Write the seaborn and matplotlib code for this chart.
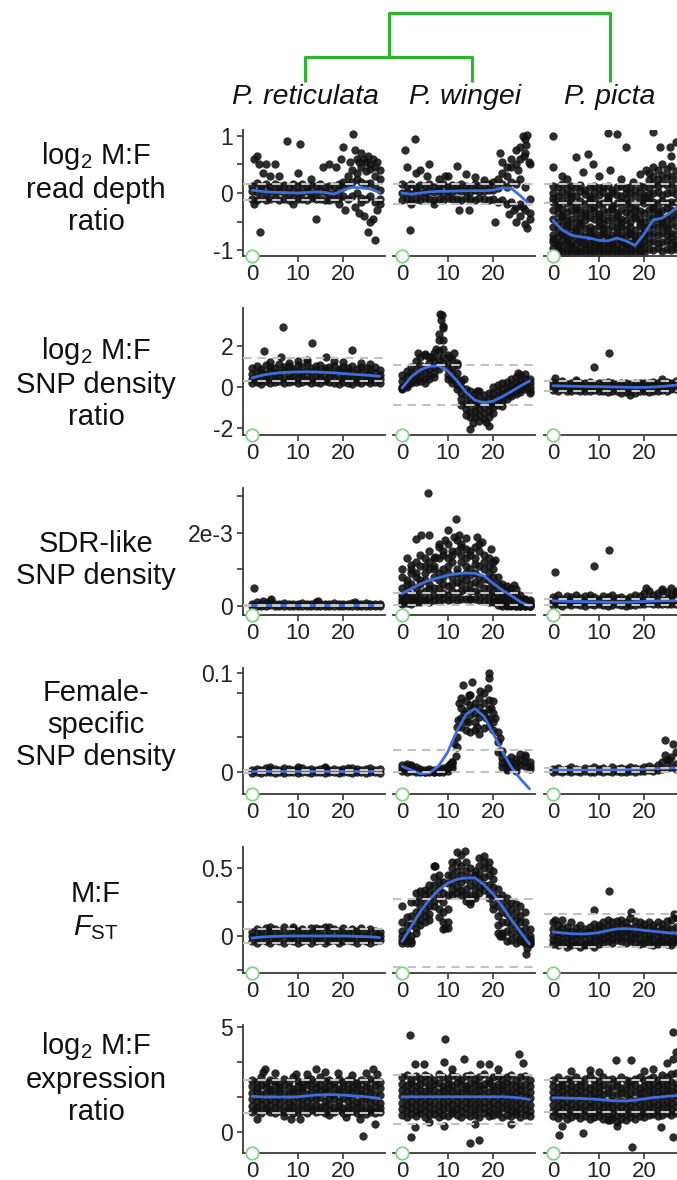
import matplotlib
matplotlib.use("Agg")
import matplotlib.pyplot as plt
import seaborn as sns

# ---------------------------------------------------------------- data
SPECIES = ["P. reticulata", "P. wingei", "P. picta"]
ROW_LABELS = [
    "log$_2$ M:F\nread depth\nratio",
    "log$_2$ M:F\nSNP density\nratio",
    "SDR-like\nSNP density",
    "Female-\nspecific\nSNP density",
    "M:F\n$\\mathit{F}_{\\mathrm{ST}}$",
    "log$_2$ M:F\nexpression\nratio",
]
POS = [0, 1, 2, 3, 4, 5, 6, 7, 8, 9, 10, 11, 12, 13, 14, 15, 16, 17, 18, 19,
       20, 21, 22, 23, 24, 25, 26, 27, 28]
TREND_POS = [0, 2, 4, 6, 8, 10, 12, 14, 16, 18, 20, 22, 24, 26, 28]
X_TICKS = [0, 10, 20]

# y ticks / labels of the left column, per row
Y_TICKS = [[-1, -0.5, 0, 0.5, 1], [-2, 0, 2], [0, 1, 2, 3],
           [0, 0.035, 0.08, 0.1], [-0.25, 0, 0.25, 0.5], [0, 1.67, 3.33, 5]]
Y_TICKLABELS = [["-1", "", "0", "", "1"], ["-2", "0", "2"], ["0", "", "2e-3", ""],
                ["0", "", "", "0.1"], ["", "0", "", "0.5"], ["0", "", "", "5"]]

# ---- log2 M:F read depth ratio
RD_RET_ROWS = [
    [0.13,0.18,0.12,0.15,0.10,0.16,0.12,0.14,0.10,0.15, 0.12,0.16,0.11,0.14,0.12,0.15,0.10,0.13,0.12,0.16, 0.20,0.30,0.40,0.35,0.45,0.38,0.42,0.30,0.25],
    [0.04,0.02,0.05,0.00,0.03,0.01,0.04,0.02,0.00,0.03, 0.01,0.02,0.04,0.00,0.02,0.03,0.01,-0.01,0.00,0.05, 0.10,0.15,0.20,0.25,0.20,0.15,0.18,0.10,0.05],
    [-0.10,-0.12,-0.08,-0.13,-0.10,-0.09,-0.12,-0.10,-0.13,-0.08, -0.11,-0.10,-0.12,-0.09,-0.11,-0.10,-0.13,-0.12,-0.10,-0.08, -0.05,-0.10,-0.05,0.00,-0.08,-0.10,-0.05,-0.15,-0.10],
]
RD_RET_OUT = [(0.5,0.60),(1.0,0.65),(1.5,0.50),(2.5,0.35),(3.0,0.50),(4.0,0.30),(5.0,0.50),(6.0,0.30),
              (7.7,0.92),(10.5,0.86),(10.0,0.35),(13.0,0.25),(15.5,0.45),(17.0,0.50),(18.5,0.45),(20.0,0.80),
              (19.5,0.60),(22.2,1.03),(21.5,0.55),(22.5,0.75),(23.0,0.60),(23.5,0.55),(24.0,0.70),(24.5,0.60),
              (25.0,0.55),(25.5,0.65),(26.0,0.50),(26.5,0.60),(27.0,0.45),(27.5,0.55),(28.0,0.40),
              (0.5,-0.20),(1.7,-0.68),(14.1,-0.45),(19.0,-0.20),(20.5,-0.30),(22.5,-0.25),(23.5,-0.35),
              (24.5,-0.40),(25.5,-0.68),(26.0,-0.50),(26.5,-0.45),(27.0,-0.82),(27.5,-0.30),(28.0,-0.20),
              (24.0,-0.15),(9.0,-0.20)]
RD_RET_TREND = [0.05,0.03,0.015,0.01,0.005,0.0,0.01,0.02,0.01,-0.02,0.05,0.10,0.09,0.07,0.01]
RD_RET_DASH = [0.16, -0.12]

RD_WIN_ROWS = [
    [0.15,0.12,0.16,0.10,0.14,0.12,0.16,0.11,0.13,0.15, 0.10,0.14,0.12,0.16,0.13,0.10,0.15,0.12,0.14,0.16, 0.20,0.25,0.35,0.30,0.45,0.50,0.60,0.70,0.50],
    [0.00,0.02,-0.02,0.03,0.00,0.01,0.04,0.02,0.03,0.00, 0.04,0.02,0.05,0.03,0.04,0.02,0.05,0.03,0.04,0.06, 0.05,0.08,0.15,0.10,0.20,0.15,0.25,0.10,-0.10],
    [-0.12,-0.10,-0.14,-0.10,-0.12,-0.09,-0.11,-0.13,-0.10,-0.12, -0.08,-0.11,-0.10,-0.12,-0.09,-0.10,-0.12,-0.08,-0.10,-0.12, -0.10,-0.15,-0.12,-0.20,-0.15,-0.25,-0.20,-0.30,-0.35],
]
RD_WIN_OUT = [(0.6,0.75),(2.8,0.95),(1.7,-0.65),(6.0,0.50),(12.0,0.48),(14.0,0.33),(12.5,-0.30),(14.7,-0.30),
              (20.5,-0.50),(23.4,-0.36),(1.0,0.45),(3.0,0.35),(4.0,0.40),(5.5,0.30),(8.0,0.25),(10.0,0.30),
              (16.0,0.28),(18.0,0.22),(21.5,0.70),(22.0,0.55),(23.0,0.45),(24.0,0.60),(25.0,0.75),(25.5,0.40),
              (26.0,0.80),(26.5,1.00),(27.0,0.95),(27.2,0.85),(27.5,1.02),(26.8,0.65),(27.8,0.55),(26.0,-0.40),
              (25.0,-0.50),(27.0,-0.55),(27.5,-0.62),(28.0,-0.45),(26.5,-0.25),(24.5,-0.30),(2.0,-0.20),
              (7.0,-0.20),(9.5,0.30)]
RD_WIN_TREND = [0.0,-0.02,0.0,0.02,0.03,0.03,0.035,0.04,0.04,0.04,0.05,0.09,0.08,-0.05,-0.20]
RD_WIN_DASH = [0.16, -0.20]

RD_PIC_ROWS = [
    [0.12,0.10,0.15,0.08,0.12,0.10,0.14,0.05,0.10,0.12, 0.08,0.10,0.13,0.06,0.10,0.12,0.08,0.10,0.05,0.12, 0.10,0.35,0.45,0.40,0.50,0.42,0.48,0.38,0.45],
    [0.00,-0.05,0.02,-0.03,0.00,-0.06,0.03,-0.02,-0.05,0.00, -0.04,0.02,-0.06,0.00,-0.03,-0.05,0.00,-0.02,-0.06,0.00, -0.03,0.22,0.30,0.25,0.32,0.28,0.30,0.25,0.30],
    [-0.15,-0.20,-0.12,-0.18,-0.15,-0.22,-0.14,-0.20,-0.16,-0.12, -0.20,-0.17,-0.14,-0.22,-0.18,-0.15,-0.20,-0.16,-0.22,-0.14, -0.18,0.10,0.15,0.12,0.18,0.14,0.16,0.10,0.15],
    [-0.30,-0.35,-0.28,-0.33,-0.30,-0.36,-0.30,-0.34,-0.28,-0.32, -0.36,-0.30,-0.34,-0.28,-0.35,-0.30,-0.33,-0.37,-0.30,-0.32, -0.35,-0.02,0.00,0.02,-0.03,0.00,0.02,-0.02,0.00],
    [-0.45,-0.50,-0.42,-0.48,-0.45,-0.50,-0.44,-0.48,-0.42,-0.46, -0.50,-0.44,-0.48,-0.43,-0.50,-0.45,-0.47,-0.50,-0.44,-0.46, -0.50,-0.16,-0.15,-0.18,-0.14,-0.17,-0.15,-0.16,-0.14],
    [-0.60,-0.63,-0.57,-0.62,-0.60,-0.64,-0.58,-0.62,-0.60,-0.63, -0.58,-0.61,-0.64,-0.58,-0.62,-0.60,-0.63,-0.60,-0.65,-0.58, -0.62,-0.30,-0.28,-0.32,-0.30,-0.27,-0.30,-0.32,-0.28],
    [-0.73,-0.76,-0.72,-0.75,-0.74,-0.77,-0.72,-0.75,-0.73,-0.76, -0.74,-0.72,-0.77,-0.73,-0.75,-0.74,-0.76,-0.72,-0.75,-0.74, -0.76,-0.44,-0.42,-0.45,-0.43,-0.46,-0.42,-0.44,-0.45],
    [-0.86,-0.88,-0.85,-0.87,-0.86,-0.89,-0.85,-0.87,-0.88,-0.86, -0.85,-0.88,-0.87,-0.86,-0.89,-0.85,-0.87,-0.88,-0.86,-0.87, -0.85,-0.58,-0.56,-0.60,-0.57,-0.59,-0.55,-0.58,-0.60],
    [-0.97,-0.99,-0.96,-0.98,-0.97,-1.00,-0.96,-0.98,-0.99,-0.97, -0.96,-0.99,-0.98,-0.97,-1.00,-0.96,-0.98,-0.99,-0.97,-0.98, -0.96,-0.72,-0.70,-0.74,-0.71,-0.73,-0.70,-0.72,-0.74],
    [-1.05,-1.06,-1.04,-1.05,-1.06,-1.05,-1.04,-1.06,-1.05,-1.04, -1.06,-1.05,-1.04,-1.06,-1.05,-1.04,-1.06,-1.05,-1.04,-1.05, -1.06,-0.86,-0.85,-0.88,-0.86,-0.84,-0.87,-0.85,-0.86],
    [-0.80,-0.92,-0.70,-0.82,-0.93,-0.66,-0.80,-0.90,-0.68,-0.80, -0.93,-0.70,-0.82,-0.92,-0.68,-0.80,-0.90,-0.70,-0.82,-0.93, -0.70,-0.98,-1.00,-0.97,-1.02,-0.99,-1.00,-0.98,-1.01],
    [-0.08,-0.25,-0.40,-0.55,-0.07,-0.28,-0.52,-0.38,-0.10,-0.24, -0.42,-0.55,-0.08,-0.26,-0.40,-0.53,-0.10,-0.27,-0.41,-0.52, -0.09,-0.08,-0.22,-0.36,-0.50,-0.64,-0.78,-0.92,-0.07],
]
RD_PIC_OUT = [(0,1.00),(12,1.05),(14,1.03),(22,1.07),(5,0.63),(7.7,0.68),(8.8,0.50),(16,0.80),(23.4,0.80),
              (25.6,0.80),(0,0.45),(19,0.34),(12.5,0.40),(6.6,0.37),(3,0.25),(10,0.30),(17.5,0.20),(20.5,0.40),
              (27,0.90),(26,0.65),(2,0.30),(15,0.25)]
RD_PIC_TREND = [-0.48,-0.65,-0.74,-0.77,-0.79,-0.83,-0.84,-0.79,-0.84,-0.92,-0.72,-0.47,-0.44,-0.33,-0.22]
RD_PIC_DASH = [0.16, -0.17]

# ---- log2 M:F SNP density ratio
SNP_RET_ROWS = [
    [0.95,1.05,0.90,1.10,1.00,0.95,1.15,1.00,1.05,0.90, 1.10,1.00,1.20,0.95,1.05,1.10,0.95,1.00,1.05,0.90, 1.00,0.95,1.05,0.90,1.00,0.95,0.90,1.00,0.85],
    [0.65,0.70,0.75,0.65,0.80,0.70,0.75,0.85,0.70,0.80, 0.75,0.70,0.80,0.75,0.85,0.70,0.80,0.75,0.70,0.80, 0.65,0.75,0.70,0.65,0.70,0.60,0.65,0.70,0.60],
    [0.40,0.45,0.35,0.50,0.45,0.40,0.50,0.45,0.40,0.50, 0.45,0.50,0.40,0.45,0.50,0.45,0.40,0.50,0.45,0.40, 0.45,0.40,0.45,0.40,0.45,0.40,0.35,0.45,0.40],
    [0.20,0.25,0.15,0.30,0.20,0.25,0.30,0.20,0.25,0.30, 0.20,0.25,0.30,0.20,0.25,0.20,0.30,0.25,0.20,0.15, 0.25,0.20,0.15,0.25,0.20,0.30,0.20,0.25,0.20],
]
SNP_RET_OUT = [(6.7,2.94),(13.2,2.19),(2.6,1.80),(22,1.83),(16.3,1.50),(6.4,1.47),(10,1.30),(18,1.30),(4,1.25),
               (24,1.20),(26,1.15),(12,1.35),(8,1.20),(20,1.25)]
SNP_RET_TREND = [0.45,0.57,0.65,0.70,0.73,0.74,0.75,0.74,0.72,0.70,0.66,0.63,0.60,0.57,0.53]
SNP_RET_DASH = [1.42, 0.28]

SNP_WIN_ROWS = [
    [0.60,0.80,1.00,1.30,1.50,1.60,1.50,1.70,2.30,2.90, 1.60,1.40,1.10,0.30,-0.10,-0.20,-0.30,-0.20,-0.40,-0.30, 0.00,0.10,0.20,0.25,0.40,0.50,0.60,0.65,0.40],
    [0.30,0.50,0.70,0.90,1.10,1.00,1.20,1.30,1.80,2.30, 1.20,1.00,0.70,0.00,-0.40,-0.50,-0.60,-0.50,-0.70,-0.60, -0.30,-0.20,-0.10,0.00,0.10,0.20,0.30,0.40,0.20],
    [0.00,0.20,0.50,0.60,0.80,0.70,0.90,1.00,1.40,1.90, 0.90,0.70,0.40,-0.30,-0.80,-0.80,-0.90,-0.80,-1.00,-0.90, -0.60,-0.50,-0.35,-0.20,-0.10,0.00,0.10,0.20,0.00],
    [-0.10,0.00,0.30,0.40,0.50,0.40,0.60,0.70,1.10,1.50, 0.60,0.40,0.10,-0.60,-1.10,-1.20,-1.20,-1.10,-1.30,-1.20, -0.80,-0.70,-0.50,-0.40,-0.30,-0.20,-0.10,0.00,-0.20],
    [-0.05,0.10,0.20,0.25,0.30,0.20,0.40,0.50,0.90,1.20, 0.40,0.20,-0.10,-0.90,-1.40,-1.50,-1.50,-1.40,-1.60,-1.50, -1.00,-0.90,-0.70,-0.60,-0.45,-0.35,-0.25,-0.10,-0.30],
]
SNP_WIN_OUT = [(8.3,3.62),(8.7,3.55),(9.0,3.00),(8.5,3.30),(8.2,2.60),(11.5,1.67),(14.9,-2.09),(19.0,-1.93),
               (18.5,-1.75),(15.5,-1.80),(17.0,-1.70),(25.5,0.69),(3.5,1.70),(5.0,1.65),(6.5,1.50),(12.0,1.20),
               (13.5,0.40),(16.5,-0.20),(20.0,-1.30),(22.0,-0.95),(10.5,1.50),(7.5,1.90)]
SNP_WIN_TREND = [-0.05,0.50,0.85,1.02,1.05,0.80,0.32,-0.25,-0.65,-0.78,-0.70,-0.48,-0.22,0.05,0.30]
SNP_WIN_DASH = [1.09, -0.91]

SNP_PIC_ROWS = [
    [0.25,0.20,0.30,0.15,0.20,0.25,0.18,0.20,0.25,0.15, 0.22,0.20,0.25,0.18,0.15,0.20,0.22,0.15,0.20,0.18, 0.22,0.20,0.25,0.20,0.18,0.25,0.22,0.30,0.25],
    [0.05,0.00,0.08,0.02,0.05,-0.02,0.04,0.00,0.05,0.02, -0.02,0.04,0.00,0.03,-0.02,0.00,0.02,-0.03,0.00,-0.02, 0.02,0.00,0.03,0.05,0.02,0.06,0.08,0.10,0.12],
    [-0.15,-0.20,-0.12,-0.18,-0.20,-0.15,-0.22,-0.18,-0.20,-0.15, -0.22,-0.20,-0.25,-0.18,-0.22,-0.30,-0.25,-0.20,-0.28,-0.22, -0.20,-0.25,-0.18,-0.20,-0.15,-0.18,-0.12,-0.10,-0.10],
]
SNP_PIC_OUT = [(9,1.01),(12.3,1.70),(0.4,0.44),(5,0.35),(17,-0.38),(24,0.40)]
SNP_PIC_TREND = [0.06,0.05,0.04,0.03,0.02,0.02,0.01,0.0,-0.01,-0.02,-0.02,0.0,0.03,0.07,0.11]
SNP_PIC_DASH = [0.30, -0.22]

# ---- SDR-like SNP density (values in units of 1e-3)
SDR_RET_ROWS = [
    [0.06,0.10,0.05,0.08,0.12,0.06,0.05,0.07,0.04,0.06, 0.05,0.08,0.05,0.06,0.10,0.05,0.06,0.04,0.07,0.05, 0.06,0.05,0.08,0.06,0.05,0.07,0.05,0.06,0.05],
    [0.00,0.01,0.00,0.00,0.02,0.00,0.01,0.00,0.00,0.01, 0.00,0.00,0.01,0.00,0.00,0.01,0.00,0.00,0.00,0.01, 0.00,0.00,0.01,0.00,0.00,0.01,0.00,0.00,0.00],
]
SDR_RET_OUT = [(0.4,0.50),(4.2,0.20),(2.4,0.12),(14.5,0.12),(22.5,0.10)]
SDR_RET_TREND = [0.02,0.02,0.02,0.02,0.02,0.02,0.02,0.02,0.02,0.02,0.02,0.02,0.02,0.02,0.02]
SDR_RET_DASH = [0.03, 0.0]

SDR_WIN_ROWS = [
    [1.00,1.30,0.90,1.20,1.40,1.10,1.50,1.30,1.60,1.40, 1.70,1.50,1.80,1.60,1.55,1.50,1.60,1.70,1.40,1.30, 1.20,0.80,0.60,0.55,0.50,0.45,0.30,0.20,0.15],
    [0.80,0.60,1.00,0.90,1.10,1.30,1.20,1.00,1.30,1.50, 1.30,1.40,1.50,1.40,1.30,1.40,1.30,1.50,1.20,1.10, 1.00,0.60,0.50,0.40,0.35,0.30,0.20,0.15,0.10],
    [0.50,0.70,0.60,0.80,0.70,0.90,1.00,1.10,0.90,1.00, 1.10,1.20,1.00,1.20,1.10,1.00,1.15,1.10,1.00,0.90, 0.80,0.45,0.35,0.30,0.25,0.20,0.12,0.10,0.05],
    [0.30,0.40,0.30,0.50,0.60,0.70,0.60,0.80,0.70,0.80, 0.90,0.80,0.90,0.80,0.90,0.85,0.90,0.80,0.75,0.70, 0.60,0.30,0.20,0.20,0.15,0.10,0.08,0.05,0.02],
    [0.20,0.25,0.20,0.30,0.35,0.40,0.45,0.50,0.50,0.60, 0.55,0.60,0.65,0.60,0.70,0.60,0.65,0.60,0.50,0.50, 0.40,0.20,0.10,0.10,0.05,0.05,0.03,0.02,0.00],
    [0.10,0.15,0.10,0.15,0.20,0.20,0.25,0.30,0.30,0.35, 0.30,0.40,0.35,0.40,0.45,0.40,0.40,0.35,0.30,0.30, 0.25,0.10,0.05,0.03,0.02,0.01,0.00,0.00,0.00],
    [0.05,0.08,0.05,0.10,0.10,0.12,0.10,0.15,0.12,0.18, 0.15,0.20,0.15,0.20,0.20,0.18,0.20,0.15,0.12,0.10, 0.10,0.03,0.00,0.00,0.00,0.00,0.00,0.00,0.00],
]
SDR_WIN_OUT = [(5.7,3.09),(11.8,2.39),(10,2.09),(11.4,1.89),(3,1.83),(4.2,1.95),(6,1.94),(7.3,1.35),(2,1.12),
               (8,1.70),(9.5,1.80),(14,1.85),(16.5,1.90),(19.5,1.55),(20.5,1.26),(24.5,0.57),(12.5,1.95),
               (15,0.20),(17.5,1.75),(13,1.70)]
SDR_WIN_TREND = [0.34,0.47,0.60,0.70,0.77,0.84,0.88,0.90,0.89,0.82,0.62,0.43,0.28,0.11,0.0]
SDR_WIN_DASH = [0.36, 0.02]

SDR_PIC_ROWS = [
    [0.25,0.30,0.20,0.28,0.25,0.30,0.22,0.28,0.30,0.25, 0.20,0.28,0.25,0.30,0.22,0.25,0.20,0.25,0.30,0.28, 0.35,0.40,0.30,0.35,0.40,0.38,0.30,0.35,0.40],
    [0.12,0.15,0.10,0.14,0.12,0.15,0.10,0.12,0.15,0.10, 0.12,0.14,0.10,0.12,0.15,0.10,0.12,0.10,0.14,0.12, 0.15,0.18,0.15,0.20,0.15,0.18,0.20,0.15,0.18],
    [0.02,0.05,0.00,0.04,0.03,0.05,0.02,0.00,0.04,0.02, 0.05,0.03,0.00,0.02,0.04,0.02,0.00,0.03,0.02,0.04, 0.05,0.08,0.05,0.06,0.04,0.05,0.06,0.04,0.05],
]
SDR_PIC_OUT = [(0.4,0.94),(9,1.08),(12.3,1.54),(20.5,0.48),(24,0.45),(26,0.50),(27,0.42)]
SDR_PIC_TREND = [0.14,0.13,0.12,0.12,0.11,0.11,0.10,0.10,0.10,0.11,0.12,0.13,0.14,0.14,0.15]
SDR_PIC_DASH = [0.20, 0.02]

# ---- Female-specific SNP density
FEM_RET_ROWS = [
    [0.002,0.003,0.002,0.004,0.002,0.003,0.002,0.004,0.003,0.002, 0.003,0.004,0.002,0.003,0.002,0.003,0.004,0.002,0.003,0.002, 0.003,0.002,0.004,0.003,0.002,0.003,0.004,0.002,0.003],
    [-0.001,0.000,-0.001,0.000,0.000,-0.001,0.000,-0.001,0.000,0.000, -0.001,0.000,0.000,-0.001,0.000,0.000,-0.001,0.000,0.000,-0.001, 0.000,0.000,-0.001,0.000,0.000,-0.001,0.000,0.000,-0.001],
]
FEM_RET_OUT = [(4,0.005),(10,0.005),(16,0.005),(21,0.004)]
FEM_RET_TREND = [0.0015,0.0015,0.0015,0.0015,0.0015,0.0015,0.0015,0.0015,0.0015,0.0015,0.0015,0.0015,0.0015,0.0015,0.0015]
FEM_RET_DASH = [0.002, -0.0005]

FEM_WIN_ROWS = [
    [0.007,0.006,0.007,0.005,0.003,0.002,0.003,0.002,0.003,0.004, 0.006,0.010,0.045,0.075,0.072,0.078,0.070,0.075,0.080,0.073, 0.072,0.040,0.014,0.012,0.015,0.013,0.018,0.015,0.010],
    [0.004,0.003,0.004,0.002,0.001,0.000,0.001,0.000,0.001,0.002, 0.004,0.007,0.035,0.065,0.062,0.068,0.060,0.066,0.070,0.064, 0.060,0.030,0.009,0.008,0.010,0.009,0.012,0.010,0.006],
    [0.001,0.000,0.001,0.000,0.000,0.000,0.000,0.000,0.000,0.000, 0.001,0.004,0.025,0.055,0.052,0.058,0.050,0.056,0.060,0.054, 0.050,0.020,0.005,0.004,0.006,0.005,0.007,0.006,0.003],
]
FEM_WIN_OUT = [(12.5,0.070),(13,0.045),(13.5,0.060),(14,0.042),(14.5,0.050),(15,0.040),(15.5,0.065),(16,0.042),
               (16.5,0.045),(17,0.038),(17.5,0.060),(18,0.044),(18.5,0.055),(19,0.046),(19.5,0.065),(20,0.042),
               (20.5,0.055),(13.3,0.088),(15.4,0.091),(19,0.100),(19.1,0.095),(18.9,0.085),(11.5,0.029),
               (11.8,0.016),(21.5,0.034),(22,0.021),(27,0.017),(23,0.002),(25,0.001),(11,0.010),(10.5,0.008),
               (1,0.008),(2,0.006),(12.2,0.053),(14.8,0.078),(17.2,0.082)]
FEM_WIN_TREND = [0.0057,0.002,-0.0017,-0.001,0.006,0.020,0.041,0.058,0.064,0.056,0.039,0.021,0.005,-0.007,-0.017]
FEM_WIN_DASH = [0.0226, 0.0]

FEM_PIC_ROWS = [
    [0.003,0.004,0.002,0.003,0.005,0.003,0.002,0.004,0.003,0.005, 0.003,0.004,0.002,0.005,0.003,0.004,0.003,0.005,0.004,0.003, 0.005,0.006,0.004,0.007,0.010,0.012,0.015,0.008,0.010],
    [0.000,0.001,0.000,0.001,0.000,0.001,0.000,0.001,0.000,0.000, 0.001,0.000,0.001,0.000,0.001,0.000,0.000,0.001,0.000,0.001, 0.001,0.002,0.001,0.002,0.003,0.004,0.005,0.003,0.004],
]
FEM_PIC_OUT = [(24.5,0.032),(26.4,0.028),(24.5,0.0175),(25.5,0.012),(27,0.020)]
FEM_PIC_TREND = [0.002,0.002,0.002,0.002,0.002,0.002,0.002,0.0022,0.0025,0.0028,0.003,0.0033,0.0036,0.004,0.0045]
FEM_PIC_DASH = [0.004, 0.0]

# ---- M:F FST
FST_RET_ROWS = [
    [0.03,0.05,0.04,0.06,0.03,0.05,0.04,0.07,0.03,0.05, 0.04,0.05,0.03,0.06,0.04,0.05,0.07,0.03,0.05,0.04, 0.06,0.03,0.05,0.04,0.06,0.03,0.05,0.04,0.03],
    [0.00,-0.01,0.01,0.00,0.01,-0.01,0.00,0.01,0.00,-0.01, 0.01,0.00,0.00,0.01,-0.01,0.00,0.01,0.00,-0.01,0.00, 0.01,0.00,-0.01,0.01,0.00,0.00,-0.01,0.00,0.00],
    [-0.04,-0.05,-0.03,-0.04,-0.05,-0.03,-0.04,-0.05,-0.03,-0.04, -0.05,-0.04,-0.03,-0.05,-0.04,-0.03,-0.05,-0.04,-0.03,-0.05, -0.04,-0.03,-0.04,-0.05,-0.03,-0.04,-0.05,-0.04,-0.03],
]
FST_RET_OUT = [(4,0.07),(9,0.065),(14,0.06),(17,0.07)]
FST_RET_TREND = [-0.015,-0.008,-0.004,-0.002,0.0,0.0,0.0,0.0,0.0,0.0,0.0,-0.002,-0.004,-0.006,-0.012]
FST_RET_DASH = [0.05, -0.05]

FST_WIN_ROWS = [
    [0.22,0.14,0.25,0.32,0.33,0.34,0.38,0.52,0.45,0.40, 0.45,0.55,0.62,0.60,0.55,0.50,0.48,0.58,0.59,0.55, 0.48,0.35,0.30,0.28,0.25,0.24,0.22,0.18,0.05],
    [0.10,0.08,0.15,0.25,0.28,0.30,0.33,0.44,0.40,0.32, 0.39,0.50,0.55,0.52,0.48,0.44,0.45,0.52,0.55,0.50, 0.42,0.28,0.25,0.22,0.20,0.18,0.15,0.10,0.00],
    [0.04,0.02,0.08,0.18,0.22,0.25,0.28,0.38,0.35,0.25, 0.30,0.45,0.48,0.45,0.42,0.38,0.40,0.46,0.50,0.45, 0.36,0.22,0.18,0.16,0.14,0.12,0.10,0.05,-0.02],
    [0.00,-0.03,0.00,0.12,0.17,0.20,0.22,0.32,0.28,0.18, 0.20,0.40,0.42,0.40,0.35,0.30,0.35,0.42,0.44,0.38, 0.30,0.15,0.10,0.10,0.08,0.06,0.04,0.00,-0.04],
    [-0.03,-0.05,-0.05,0.06,0.12,0.15,0.16,0.26,0.20,0.10, 0.10,0.35,0.36,0.34,0.30,0.26,0.30,0.36,0.38,0.32, 0.24,0.08,0.02,0.04,0.02,0.00,-0.02,-0.04,-0.05],
    [-0.05,-0.02,-0.04,0.02,0.08,0.10,0.12,0.22,0.14,0.05, 0.06,0.30,0.32,0.30,0.26,0.24,0.28,0.32,0.34,0.28, 0.20,0.02,0.00,-0.04,-0.03,-0.05,-0.04,-0.05,-0.06],
]
FST_WIN_OUT = [(27.3,-0.13),(27.5,-0.09),(9.5,0.06),(7.3,0.52),(13.8,0.63),(15,0.26),(21.5,0.00)]
FST_WIN_TREND = [-0.04,0.07,0.18,0.27,0.34,0.39,0.42,0.43,0.43,0.38,0.31,0.22,0.12,0.03,-0.06]
FST_WIN_DASH = [0.273, -0.23]

FST_PIC_ROWS = [
    [0.10,0.08,0.12,0.07,0.10,0.06,0.08,0.05,0.07,0.09, 0.08,0.10,0.12,0.10,0.11,0.12,0.10,0.13,0.11,0.10, 0.09,0.10,0.08,0.10,0.09,0.11,0.12,0.14,0.12],
    [0.05,0.04,0.06,0.03,0.04,0.02,0.03,0.02,0.03,0.04, 0.05,0.06,0.07,0.06,0.07,0.08,0.07,0.06,0.07,0.06, 0.05,0.06,0.05,0.04,0.05,0.06,0.05,0.07,0.06],
    [0.01,0.00,0.02,-0.01,0.00,-0.01,0.00,-0.02,-0.01,0.00, 0.01,0.02,0.03,0.02,0.04,0.03,0.04,0.03,0.02,0.03, 0.02,0.01,0.02,0.00,0.01,0.02,0.00,0.01,0.02],
    [-0.03,-0.04,-0.02,-0.05,-0.04,-0.06,-0.05,-0.06,-0.05,-0.04, -0.03,-0.02,-0.01,-0.02,0.00,-0.01,0.00,-0.02,-0.01,-0.02, -0.03,-0.02,-0.03,-0.04,-0.03,-0.02,-0.04,-0.03,-0.02],
    [-0.06,-0.07,-0.05,-0.08,-0.07,-0.06,-0.08,-0.07,-0.06,-0.08, -0.06,-0.05,-0.04,-0.05,-0.03,-0.04,-0.05,-0.04,-0.05,-0.06, -0.05,-0.06,-0.07,-0.06,-0.05,-0.06,-0.07,-0.05,-0.06],
]
FST_PIC_OUT = [(12.3,0.33),(9,0.19),(17.2,0.18),(0.4,0.12),(26.5,0.16),(27,0.14)]
FST_PIC_TREND = [0.03,0.023,0.017,0.015,0.017,0.025,0.04,0.052,0.055,0.05,0.042,0.035,0.028,0.022,0.02]
FST_PIC_DASH = [0.16, -0.08]

# ---- log2 M:F expression ratio
EXP_RET_ROWS = [
    [2.50,2.40,2.60,2.35,2.50,2.45,2.30,2.55,2.40,2.60, 2.45,2.35,2.50,2.55,2.40,2.60,2.45,2.50,2.35,2.55, 2.40,2.50,2.45,2.35,2.50,2.40,2.55,2.45,2.40],
    [2.20,2.10,2.25,2.15,2.05,2.20,2.10,2.25,2.15,2.05, 2.20,2.10,2.25,2.20,2.15,2.25,2.10,2.20,2.15,2.05, 2.20,2.10,2.15,2.20,2.05,2.15,2.10,2.20,2.10],
    [1.85,1.90,1.80,1.85,1.95,1.80,1.90,1.85,1.80,1.90, 1.85,1.95,1.80,1.90,1.85,1.95,1.90,1.85,1.80,1.90, 1.85,1.80,1.90,1.85,1.80,1.75,1.85,1.80,1.75],
    [1.55,1.50,1.60,1.45,1.55,1.50,1.60,1.55,1.45,1.50, 1.60,1.55,1.50,1.60,1.55,1.65,1.50,1.60,1.55,1.50, 1.60,1.50,1.55,1.45,1.50,1.55,1.45,1.50,1.40],
    [1.25,1.20,1.30,1.15,1.25,1.20,1.30,1.25,1.15,1.20, 1.25,1.30,1.20,1.25,1.30,1.20,1.25,1.30,1.20,1.25, 1.15,1.20,1.25,1.20,1.15,1.20,1.10,1.20,1.15],
    [0.95,1.00,0.90,1.05,0.95,0.90,1.00,0.95,1.05,0.90, 0.95,1.00,0.90,1.05,0.95,1.00,0.90,1.00,0.95,1.05, 0.90,0.95,1.00,0.90,0.95,0.85,0.95,0.90,0.95],
]
EXP_RET_OUT = [(2.8,3.00),(9.7,2.78),(14,3.00),(18.9,2.80),(26.6,2.98),(2.5,2.85),(1,0.63),(8.6,0.63),(10.5,0.63),
               (20.7,0.70),(23.7,0.63),(24.4,-0.20),(27,0.40),(5,2.80),(12,2.75),(16,2.85),(22,2.70),(25,2.80),
               (7,0.75),(17,0.80),(27.5,2.75)]
EXP_RET_TREND = [1.70,1.68,1.67,1.67,1.67,1.68,1.72,1.76,1.78,1.78,1.76,1.73,1.70,1.66,1.60]
EXP_RET_DASH = [2.49, 0.90]

EXP_WIN_ROWS = [
    [2.60,2.70,2.50,2.65,2.55,2.70,2.60,2.50,2.75,2.60, 2.55,2.70,2.60,2.50,2.65,2.70,2.55,2.60,2.75,2.50, 2.60,2.65,2.55,2.60,2.70,2.50,2.60,2.65,2.50],
    [2.30,2.25,2.35,2.20,2.30,2.40,2.25,2.30,2.35,2.20, 2.30,2.25,2.35,2.30,2.20,2.35,2.30,2.25,2.30,2.35, 2.20,2.30,2.25,2.35,2.30,2.20,2.25,2.30,2.20],
    [2.00,1.95,2.05,1.90,2.00,1.95,2.05,2.00,1.90,2.00, 2.05,1.95,2.00,1.90,2.05,2.00,1.95,2.00,2.05,1.90, 2.00,1.95,2.05,2.00,1.95,1.90,2.00,1.95,1.90],
    [1.70,1.65,1.75,1.60,1.70,1.65,1.75,1.70,1.60,1.70, 1.75,1.65,1.70,1.60,1.75,1.70,1.65,1.70,1.75,1.60, 1.70,1.65,1.75,1.70,1.65,1.60,1.70,1.65,1.60],
    [1.40,1.35,1.45,1.30,1.40,1.35,1.45,1.40,1.30,1.40, 1.45,1.35,1.40,1.30,1.45,1.40,1.35,1.40,1.45,1.30, 1.40,1.35,1.45,1.40,1.35,1.30,1.40,1.35,1.30],
    [1.10,1.05,1.15,1.00,1.10,1.05,1.15,1.10,1.00,1.10, 1.15,1.05,1.10,1.00,1.15,1.10,1.05,1.10,1.15,1.00, 1.10,1.05,1.15,1.10,1.05,1.00,1.10,1.05,1.00],
    [0.80,0.70,0.85,0.75,0.90,0.70,0.80,0.85,0.70,0.80, 0.75,0.90,0.80,0.70,0.85,0.75,0.80,0.70,0.90,0.75, 0.80,0.85,0.70,0.80,0.75,0.85,0.70,0.80,0.75],
]
EXP_WIN_OUT = [(1.7,4.60),(9.5,4.44),(13.6,3.49),(2.8,3.25),(4.9,3.25),(9.1,3.33),(17.2,3.25),(19,3.25),
               (25.6,3.73),(2,-0.24),(2.8,0.24),(9.1,0.27),(15,-0.52),(17,-0.40),(16,0.40),(24,0.40),
               (26.5,3.30),(11,3.00),(21,3.00),(6,0.50)]
EXP_WIN_TREND = [1.67,1.68,1.68,1.68,1.68,1.68,1.68,1.68,1.68,1.68,1.68,1.68,1.66,1.62,1.55]
EXP_WIN_DASH = [2.70, 0.40]

EXP_PIC_ROWS = [
    [2.50,2.60,2.45,2.55,2.50,2.60,2.45,2.55,2.65,2.50, 2.45,2.60,2.50,2.55,2.45,2.60,2.50,2.45,2.55,2.60, 2.50,2.55,2.60,2.50,2.70,2.60,2.75,2.80,2.70],
    [2.20,2.15,2.25,2.10,2.20,2.15,2.25,2.20,2.10,2.20, 2.15,2.25,2.10,2.15,2.20,2.10,2.15,2.20,2.25,2.10, 2.20,2.25,2.30,2.25,2.35,2.30,2.40,2.35,2.40],
    [1.90,1.85,1.95,1.80,1.90,1.85,1.95,1.90,1.80,1.85, 1.90,1.80,1.85,1.75,1.80,1.85,1.80,1.85,1.90,1.85, 1.90,1.95,2.00,1.95,2.00,2.05,2.00,2.10,2.05],
    [1.60,1.55,1.65,1.50,1.60,1.55,1.65,1.60,1.50,1.55, 1.60,1.50,1.45,1.50,1.45,1.50,1.45,1.55,1.50,1.60, 1.55,1.65,1.70,1.65,1.70,1.75,1.70,1.80,1.75],
    [1.30,1.25,1.35,1.20,1.30,1.25,1.35,1.30,1.20,1.25, 1.30,1.20,1.15,1.20,1.10,1.20,1.15,1.25,1.20,1.30, 1.25,1.35,1.40,1.35,1.40,1.45,1.40,1.50,1.45],
    [1.00,0.95,1.05,0.90,1.00,0.95,1.05,1.00,0.90,0.95, 1.00,0.90,0.85,0.90,0.80,0.90,0.85,0.95,0.90,1.00, 0.95,1.05,1.10,1.05,1.10,1.15,1.10,1.20,1.15],
    [0.75,0.65,0.80,0.60,0.70,0.80,0.65,0.75,0.60,0.70, 0.75,0.60,0.55,0.65,0.50,0.60,0.55,0.70,0.60,0.75, 0.70,0.80,0.85,0.75,0.80,0.90,0.80,0.90,0.85],
]
EXP_PIC_OUT = [(13.8,3.41),(17.2,3.41),(26.4,4.76),(26.4,3.49),(1.3,-0.16),(6.6,-0.05),(17.4,-0.71),(23.8,0.24),
               (26.4,-0.24),(14,0.30),(12.5,0.55),(4,2.90),(8,2.95),(10,2.85),(20,2.90),(2,0.30),(22,3.00),
               (25,3.30),(27,3.80)]
EXP_PIC_TREND = [1.63,1.62,1.61,1.60,1.58,1.55,1.51,1.48,1.48,1.52,1.58,1.64,1.68,1.72,1.75]
EXP_PIC_DASH = [2.50, 0.95]

PANELS = [
    [(RD_RET_ROWS, RD_RET_OUT, RD_RET_TREND, RD_RET_DASH),
     (RD_WIN_ROWS, RD_WIN_OUT, RD_WIN_TREND, RD_WIN_DASH),
     (RD_PIC_ROWS, RD_PIC_OUT, RD_PIC_TREND, RD_PIC_DASH)],
    [(SNP_RET_ROWS, SNP_RET_OUT, SNP_RET_TREND, SNP_RET_DASH),
     (SNP_WIN_ROWS, SNP_WIN_OUT, SNP_WIN_TREND, SNP_WIN_DASH),
     (SNP_PIC_ROWS, SNP_PIC_OUT, SNP_PIC_TREND, SNP_PIC_DASH)],
    [(SDR_RET_ROWS, SDR_RET_OUT, SDR_RET_TREND, SDR_RET_DASH),
     (SDR_WIN_ROWS, SDR_WIN_OUT, SDR_WIN_TREND, SDR_WIN_DASH),
     (SDR_PIC_ROWS, SDR_PIC_OUT, SDR_PIC_TREND, SDR_PIC_DASH)],
    [(FEM_RET_ROWS, FEM_RET_OUT, FEM_RET_TREND, FEM_RET_DASH),
     (FEM_WIN_ROWS, FEM_WIN_OUT, FEM_WIN_TREND, FEM_WIN_DASH),
     (FEM_PIC_ROWS, FEM_PIC_OUT, FEM_PIC_TREND, FEM_PIC_DASH)],
    [(FST_RET_ROWS, FST_RET_OUT, FST_RET_TREND, FST_RET_DASH),
     (FST_WIN_ROWS, FST_WIN_OUT, FST_WIN_TREND, FST_WIN_DASH),
     (FST_PIC_ROWS, FST_PIC_OUT, FST_PIC_TREND, FST_PIC_DASH)],
    [(EXP_RET_ROWS, EXP_RET_OUT, EXP_RET_TREND, EXP_RET_DASH),
     (EXP_WIN_ROWS, EXP_WIN_OUT, EXP_WIN_TREND, EXP_WIN_DASH),
     (EXP_PIC_ROWS, EXP_PIC_OUT, EXP_PIC_TREND, EXP_PIC_DASH)],
]

# ---------------------------------------------------------------- style / layout
sns.set_style("ticks")
plt.rcParams["font.family"] = ["Liberation Sans", "DejaVu Sans"]
plt.rcParams["mathtext.fontset"] = "custom"
plt.rcParams["mathtext.rm"] = "Liberation Sans"
plt.rcParams["mathtext.it"] = "Liberation Sans:italic"
plt.rcParams["mathtext.bf"] = "Liberation Sans:bold"
plt.rcParams["mathtext.default"] = "regular"

W, H = 677, 1180
COL_X0 = [243, 393, 544]
AX_W = 142
ROW_TOP = [130, 308, 488, 668, 847, 1025]
ROW_BOT = [256, 435, 615, 794, 973, 1153]
YLIMS = [(-1.105, 1.105), (-2.37, 3.9), (-0.25, 3.23), (-0.0222, 0.105), (-0.274, 0.659), (-1.0, 5.1)]
XLIM = (-2.0, 29.2)
LABEL_Y = [188, 383, 560, 725, 911, 1078]
TITLE_X = [305, 465, 610]
DENDRO_X = [305, 472, 610]
DENDRO_Y = [82, 57, 13]   # leaf tips, first merge, root

POINT_C = "#111111"
BLUE = "#3d6ee0"
DASH_C = "#c2c2c2"
GREEN = "#2db52d"
CIRCLE_GREEN = "#86d486"
AXIS_C = "#3a3a3a"

fig = plt.figure(figsize=(W / 100, H / 100), dpi=100)

for r in range(6):
    for c in range(3):
        rows, extras, trend, dashes = PANELS[r][c]
        ax = fig.add_axes([COL_X0[c] / W, 1 - ROW_BOT[r] / H, AX_W / W,
                           (ROW_BOT[r] - ROW_TOP[r]) / H])
        ax.patch.set_alpha(0)
        xs, ys = [], []
        for row in rows:
            for x, y in zip(POS, row):
                xs.append(x)
                ys.append(y)
        for x, y in extras:
            xs.append(x)
            ys.append(y)
        sns.scatterplot(x=xs, y=ys, ax=ax, color=POINT_C, s=36, alpha=0.88,
                        linewidth=0, legend=False, zorder=2)
        sns.lineplot(x=TREND_POS, y=trend, ax=ax, color=BLUE, linewidth=2.0,
                     estimator=None, legend=False, zorder=3)
        for d in dashes:
            ax.axhline(d, color=DASH_C, lw=1.5, dashes=(4, 3), zorder=4)
        ax.set_xlim(XLIM)
        ax.set_ylim(YLIMS[r])
        ax.plot([0], [YLIMS[r][0]], marker="o", ms=9, mfc="white", mec=CIRCLE_GREEN,
                mew=1.3, clip_on=False, zorder=6)

        for s in ["top", "right"]:
            ax.spines[s].set_visible(False)
        ax.spines["bottom"].set_color(AXIS_C)
        ax.spines["bottom"].set_linewidth(1.3)
        ax.set_xticks(X_TICKS)
        ax.set_xticklabels([str(t) for t in X_TICKS])
        ax.tick_params(axis="x", length=4, width=1.2, color=AXIS_C, pad=1.5,
                       labelsize=16, labelcolor="#222222")
        if c == 0:
            ax.spines["left"].set_color(AXIS_C)
            ax.spines["left"].set_linewidth(1.3)
            ax.set_yticks(Y_TICKS[r])
            ax.set_yticklabels(Y_TICKLABELS[r])
            ax.tick_params(axis="y", length=4, width=1.2, color=AXIS_C, pad=3,
                           labelsize=16.5, labelcolor="#222222")
        else:
            ax.spines["left"].set_visible(False)
            ax.set_yticks([])
        ax.set_xlabel("")
        ax.set_ylabel("")

# overlay in pixel coordinates: titles, row labels, dendrogram
ov = fig.add_axes([0, 0, 1, 1], zorder=10)
ov.set_xlim(0, W)
ov.set_ylim(H, 0)
ov.axis("off")
ov.patch.set_alpha(0)

for x, name in zip(TITLE_X, SPECIES):
    ov.text(x, 97, name, fontsize=20.5, style="italic", ha="center", va="center",
            color="#111111")
for y, lab in zip(LABEL_Y, ROW_LABELS):
    ov.text(96, y, lab, fontsize=21, ha="center", va="center", multialignment="center",
            linespacing=1.2, color="#111111")

x1, x2, x3 = DENDRO_X
yl, ym, yr = DENDRO_Y
xm = (x1 + x2) / 2
ov.plot([x1, x1, x2, x2], [yl, ym, ym, yl], color=GREEN, lw=2.3, solid_capstyle="butt")
ov.plot([xm, xm, x3, x3], [ym, yr, yr, yl], color=GREEN, lw=2.3, solid_capstyle="butt")

fig.savefig("out.png", dpi=100)
